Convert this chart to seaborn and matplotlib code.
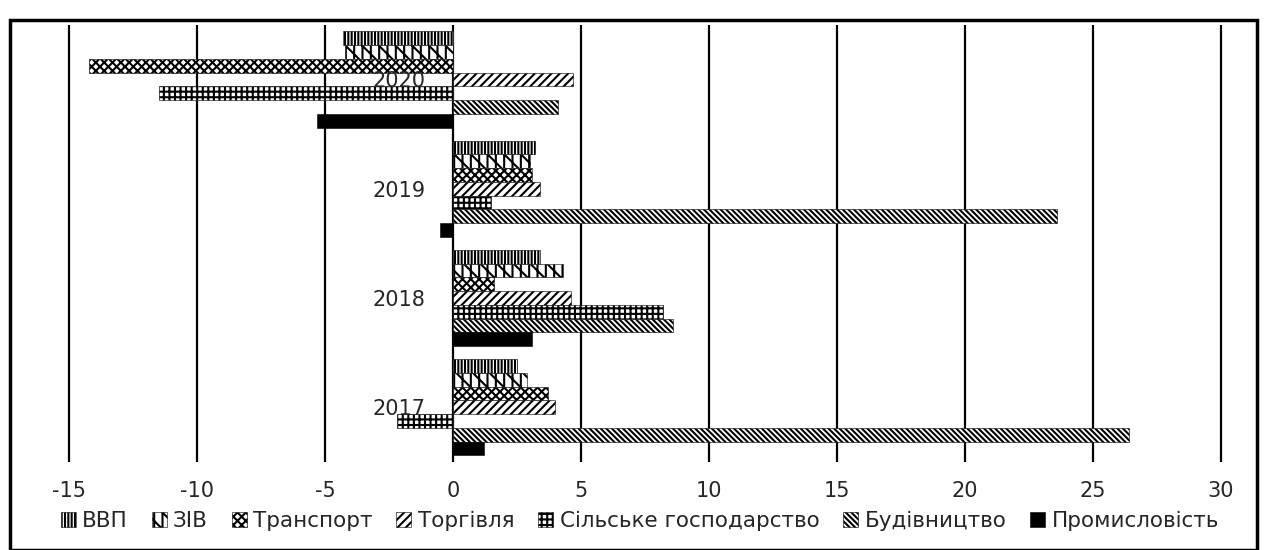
import matplotlib
matplotlib.use("Agg")
import matplotlib.pyplot as plt
from matplotlib.patches import Patch, Rectangle
import seaborn as sns
import pandas as pd

years = ["2020", "2019", "2018", "2017"]
sectors = ["ВВП", "ЗІВ", "Транспорт", "Торгівля",
           "Сільське господарство", "Будівництво", "Промисловість"]

# values by sector, in the order of `years`
vvp = [-4.3, 3.2, 3.4, 2.5]
ziv = [-4.2, 3.0, 4.3, 2.9]
transport = [-14.2, 3.1, 1.6, 3.7]
torhivlia = [4.7, 3.4, 4.6, 4.0]
silske = [-11.5, 1.5, 8.2, -2.2]
budivnytstvo = [4.1, 23.6, 8.6, 26.4]
promyslovist = [-5.3, -0.5, 3.1, 1.2]

xticks = [-15, -10, -5, 0, 5, 10, 15, 20, 25, 30]

series = [vvp, ziv, transport, torhivlia, silske, budivnytstvo, promyslovist]
rows = []
for name, vals in zip(sectors, series):
    for y, v in zip(years, vals):
        rows.append({"year": y, "sector": name, "value": v})
df = pd.DataFrame(rows)

hatches = ["|||||", "\\\\||", "xxxx", "////", "+++", "\\\\\\\\\\\\", ""]
faces = ["white"] * 6 + ["black"]

sns.set_style("white")
plt.rcParams["font.family"] = ["DejaVu Sans"]
plt.rcParams["hatch.linewidth"] = 1.5

fig = plt.figure(figsize=(12.67, 5.5), dpi=100)
ax = fig.add_axes([0.008, 0.16, 0.984, 0.795])

sns.barplot(data=df, x="value", y="year", hue="sector", order=years,
            hue_order=sectors, orient="h", width=0.88, ax=ax,
            legend=False, zorder=1)

for cont, h, fc in zip(ax.containers, hatches, faces):
    for bar in cont:
        bar.set_facecolor(fc)
        bar.set_edgecolor("black")
        bar.set_hatch(h)
        bar.set_linewidth(0.4)

# gridlines behind the bars, year labels above them
for t in xticks:
    ax.axvline(t, color="black", lw=1.6, zorder=0.5)

ax.set_xlim(-17.3, 31.4)
ax.set_xticks(xticks)
ax.set_xticklabels([str(t) for t in xticks])
ax.set_xlabel("")
ax.set_ylabel("")
for s in ax.spines.values():
    s.set_visible(False)
ax.spines["left"].set_position(("data", 0))
ax.yaxis.set_zorder(3)
ax.tick_params(axis="x", length=0, pad=14, labelsize=15)
ax.tick_params(axis="y", length=0, pad=20, labelsize=15)

handles = [Patch(facecolor=fc, edgecolor="black", hatch=h, linewidth=0.4)
           for h, fc in zip(hatches, faces)]
fig.legend(handles, sectors, loc="center", bbox_to_anchor=(0.505, 0.053),
           ncol=7, frameon=False, fontsize=15.5, handlelength=0.7,
           handleheight=0.7, handletextpad=0.3, columnspacing=1.1)

fig.add_artist(Rectangle((0.0079, 0.0), 0.984, 0.963, transform=fig.transFigure,
                         fill=False, edgecolor="black", lw=2.5))

fig.savefig("out.png", dpi=100)
